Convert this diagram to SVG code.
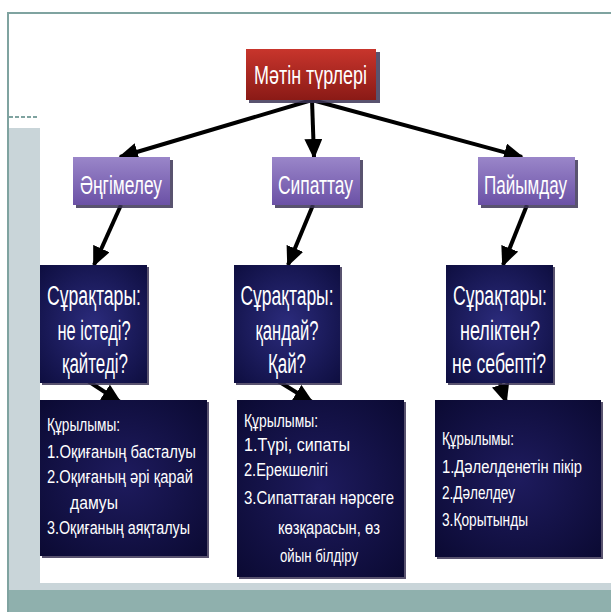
<svg xmlns="http://www.w3.org/2000/svg" width="611" height="612" viewBox="0 0 611 612">
<defs>
<linearGradient id="gRed" x1="0" y1="0" x2="0" y2="1"><stop offset="0" stop-color="#c8352c"/><stop offset="1" stop-color="#8a1a16"/></linearGradient>
<linearGradient id="gPurple" x1="0" y1="0" x2="0" y2="1"><stop offset="0" stop-color="#9a86c9"/><stop offset="1" stop-color="#6b51a6"/></linearGradient>
<radialGradient id="gNavy" cx="0.5" cy="0.5" r="0.7"><stop offset="0" stop-color="#2b2b7c"/><stop offset="1" stop-color="#0e0e40"/></radialGradient>
<radialGradient id="gNavy2" cx="0.5" cy="0.5" r="0.7"><stop offset="0" stop-color="#1e1b5e"/><stop offset="1" stop-color="#0b0a33"/></radialGradient>
<marker id="ah" markerUnits="userSpaceOnUse" markerWidth="20" markerHeight="18" refX="18" refY="9" orient="auto"><path d="M0,0 L20,9 L0,18 Z" fill="#000"/></marker>
</defs>
<style>
.t{font-family:"Liberation Sans",Arial,sans-serif;fill:#fff;}
.big{font-size:26px;}
.q{font-size:27px;text-anchor:middle;}
.s{font-size:17.5px;}
.sh{fill:#3c3556;opacity:0.85;}
.c{stroke:#000;stroke-width:4;fill:none;marker-end:url(#ah);}
</style>
<rect x="0" y="0" width="611" height="612" fill="#fff"/>
<g id="frame">
<rect x="9" y="128" width="31" height="462" fill="#c9d5d9"/>
<rect x="9" y="583" width="602" height="7" fill="#c9d5d9"/>
<rect x="9" y="590" width="602" height="22" fill="#8fb0ad"/>
<line x1="7" y1="13" x2="611" y2="13" stroke="#7fa3a0" stroke-width="2"/>
<line x1="8" y1="12" x2="8" y2="612" stroke="#7fa3a0" stroke-width="2"/>
<line x1="9" y1="117" x2="38" y2="117" stroke="#7fa3a0" stroke-width="2" stroke-dasharray="4 2"/>
</g>
<g id="connectors">
<line class="c" x1="312" y1="100" x2="120" y2="157"/>
<line class="c" x1="312" y1="100" x2="314" y2="157"/>
<line class="c" x1="312" y1="100" x2="522" y2="157"/>
<line class="c" x1="121" y1="205" x2="94" y2="265"/>
<line class="c" x1="313" y1="205" x2="288" y2="265"/>
<line class="c" x1="527" y1="205" x2="503" y2="265"/>
<line class="c" x1="88" y1="381" x2="120" y2="402"/>
<line class="c" x1="278" y1="381" x2="312" y2="402"/>
<line class="c" x1="500" y1="383" x2="506" y2="402"/>
</g>
<g id="root">
<rect class="sh" x="249" y="52" width="131" height="51"/>
<rect x="246" y="49" width="130" height="51" fill="url(#gRed)"/>
<text class="t big" x="254" y="84" textLength="113" lengthAdjust="spacingAndGlyphs">Мәтін түрлері</text>
</g>
<g id="n1">
<rect class="sh" x="76" y="160" width="97" height="48"/>
<rect x="73" y="157" width="97" height="48" fill="url(#gPurple)"/>
<text class="t big" x="80" y="194" textLength="82" lengthAdjust="spacingAndGlyphs">Әңгімелеу</text>
</g>
<g id="n2">
<rect class="sh" x="275" y="160" width="88" height="48"/>
<rect x="272" y="157" width="88" height="48" fill="url(#gPurple)"/>
<text class="t big" x="278" y="194" textLength="75" lengthAdjust="spacingAndGlyphs">Сипаттау</text>
</g>
<g id="n3">
<rect class="sh" x="481" y="160" width="97" height="48"/>
<rect x="478" y="157" width="97" height="48" fill="url(#gPurple)"/>
<text class="t big" x="484" y="194" textLength="83" lengthAdjust="spacingAndGlyphs">Пайымдау</text>
</g>
<g id="q1">
<rect class="sh" x="42" y="267" width="107" height="118"/>
<rect x="40" y="265" width="107" height="118" fill="url(#gNavy)"/>
<text class="t q" x="94" y="305" textLength="94" lengthAdjust="spacingAndGlyphs">Сұрақтары:</text>
<text class="t q" x="94" y="340" textLength="73" lengthAdjust="spacingAndGlyphs">не істеді?</text>
<text class="t q" x="95" y="373" textLength="66" lengthAdjust="spacingAndGlyphs">қайтеді?</text>
</g>
<g id="q2">
<rect class="sh" x="236" y="267" width="106" height="118"/>
<rect x="234" y="265" width="106" height="118" fill="url(#gNavy)"/>
<text class="t q" x="287" y="305" textLength="93" lengthAdjust="spacingAndGlyphs">Сұрақтары:</text>
<text class="t q" x="287" y="340" textLength="63" lengthAdjust="spacingAndGlyphs">қандай?</text>
<text class="t q" x="287" y="373" textLength="38" lengthAdjust="spacingAndGlyphs">Қай?</text>
</g>
<g id="q3">
<rect class="sh" x="448" y="267" width="107" height="118"/>
<rect x="446" y="265" width="107" height="118" fill="url(#gNavy)"/>
<text class="t q" x="500" y="305" textLength="94" lengthAdjust="spacingAndGlyphs">Сұрақтары:</text>
<text class="t q" x="500" y="340" textLength="80" lengthAdjust="spacingAndGlyphs">неліктен?</text>
<text class="t q" x="499" y="373" textLength="94" lengthAdjust="spacingAndGlyphs">не себепті?</text>
</g>
<g id="s1">
<rect class="sh" x="42" y="402" width="167" height="156"/>
<rect x="40" y="400" width="167" height="156" fill="url(#gNavy2)"/>
<text class="t s" x="47" y="431" textLength="73" lengthAdjust="spacingAndGlyphs">Құрылымы:</text>
<text class="t s" x="47" y="458" textLength="149" lengthAdjust="spacingAndGlyphs">1.Оқиғаның басталуы</text>
<text class="t s" x="47" y="483" textLength="146" lengthAdjust="spacingAndGlyphs">2.Оқиғаның әрі қарай</text>
<text class="t s" x="70" y="509" textLength="48" lengthAdjust="spacingAndGlyphs">дамуы</text>
<text class="t s" x="47" y="534" textLength="143" lengthAdjust="spacingAndGlyphs">3.Оқиғаның аяқталуы</text>
</g>
<g id="s2">
<rect class="sh" x="239" y="402" width="167" height="177"/>
<rect x="237" y="400" width="167" height="177" fill="url(#gNavy2)"/>
<text class="t s" x="244" y="427" textLength="74" lengthAdjust="spacingAndGlyphs">Құрылымы:</text>
<text class="t s" x="244" y="451" textLength="106" lengthAdjust="spacingAndGlyphs">1.Түрі, сипаты</text>
<text class="t s" x="244" y="476" textLength="84" lengthAdjust="spacingAndGlyphs">2.Ерекшелігі</text>
<text class="t s" x="244" y="504" textLength="150" lengthAdjust="spacingAndGlyphs">3.Сипаттаған нәрсеге</text>
<text class="t s" x="278" y="534" textLength="102" lengthAdjust="spacingAndGlyphs">көзқарасын, өз</text>
<text class="t s" x="280" y="562" textLength="78" lengthAdjust="spacingAndGlyphs">ойын білдіру</text>
</g>
<g id="s3">
<rect class="sh" x="437" y="402" width="166" height="157"/>
<rect x="435" y="400" width="166" height="157" fill="url(#gNavy2)"/>
<text class="t s" x="442" y="445" textLength="72" lengthAdjust="spacingAndGlyphs">Құрылымы:</text>
<text class="t s" x="442" y="473" textLength="140" lengthAdjust="spacingAndGlyphs">1.Дәлелденетін пікір</text>
<text class="t s" x="442" y="499" textLength="73" lengthAdjust="spacingAndGlyphs">2.Дәлелдеу</text>
<text class="t s" x="442" y="526" textLength="86" lengthAdjust="spacingAndGlyphs">3.Қорытынды</text>
</g>
</svg>
